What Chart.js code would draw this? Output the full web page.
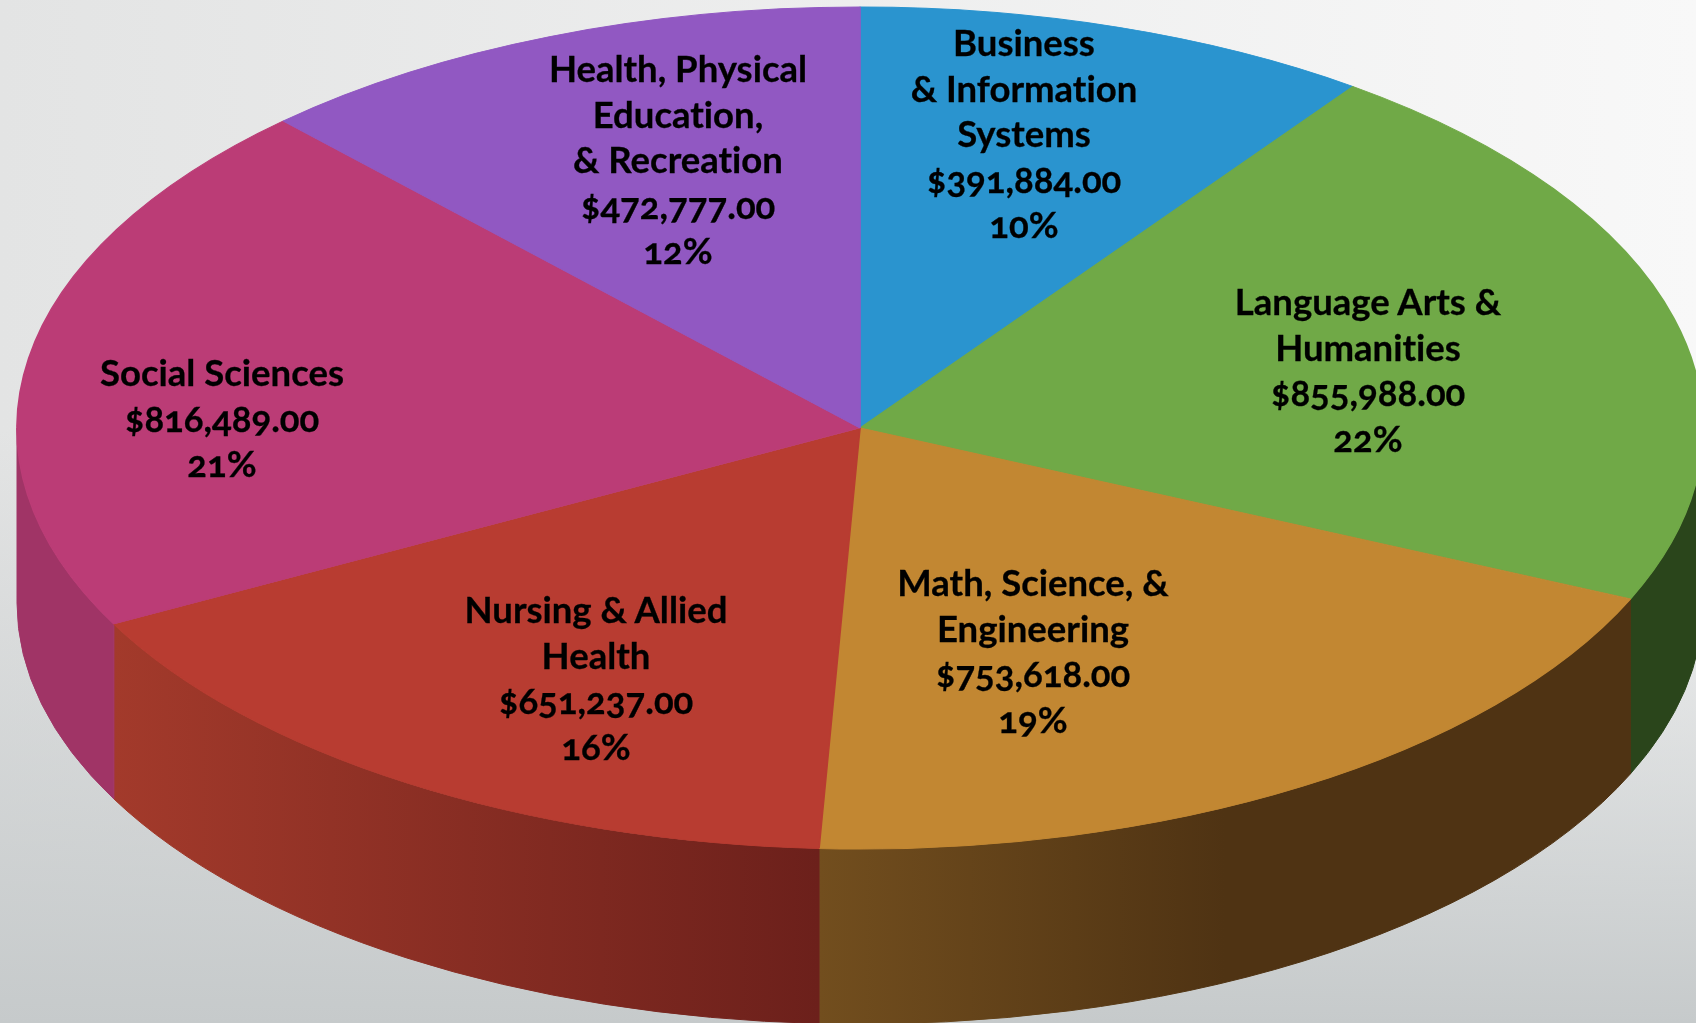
<!DOCTYPE html>
<html>
<head>
<meta charset="utf-8">
<script src="https://cdn.jsdelivr.net/npm/chart.js@4"></script>
<style>
  html, body { margin: 0; padding: 0; }
  #wrap {
    position: relative; width: 1696px; height: 1023px; overflow: hidden;
    background:
      linear-gradient(to bottom, rgba(198,202,203,0) 42%, rgba(198,202,203,1) 100%),
      linear-gradient(to right, #e3e4e4, #f8f8f8);
  }
  #myChart { position: absolute; left: 0; top: 0; }
  .lbl {
    position: absolute; transform: translateX(-50%); white-space: nowrap;
    text-align: center; color: #000; font-family: Lato, sans-serif;
    font-size: 36.5px; line-height: 45.5px; font-weight: 700;
    font-variant-numeric: oldstyle-nums;
    font-variant-ligatures: none;
    -webkit-text-stroke: 0.3px #000;
  }
</style>
</head>
<body>
<div id="wrap"><canvas id="myChart" width="1696" height="1023"></canvas></div>
<script>
const categories = ['Business & Information Systems', 'Language Arts & Humanities', 'Math, Science, & Engineering', 'Nursing & Allied Health', 'Social Sciences', 'Health, Physical Education, & Recreation']
const amounts = [391884, 855988, 753618, 651237, 816489, 472777]
const percents = [10, 22, 19, 16, 21, 12]
const nameLines = [
    ['Business', '& Information', 'Systems'],
    ['Language Arts &', 'Humanities'],
    ['Math, Science, &', 'Engineering'],
    ['Nursing & Allied', 'Health'],
    ['Social Sciences'],
    ['Health, Physical', 'Education,', '& Recreation']
]

const topColors = ['#2A94CF', '#70A947', '#C28732', '#B83C31', '#BB3C76', '#9158C2']
const wallColors = [
    ['#1d6690', '#1d6690'],
    ['#2A451B', '#2A451B'],
    ['#724E1E', '#4F3313', '#4F3313'],
    ['#A33A2B', '#6C201B'],
    ['#A03466', '#A03466'],
    ['#65408a', '#65408a']
]

// where the pie's circle ends up on the page once squashed
const ELLIPSE = { cx: 860, cy: 428, rx: 843, ry: 421, depth: 175 }
const labelSpots = [[1024, 20], [1368, 279], [1033, 560], [596, 587], [222, 350], [678, 46]]

const squash3d = {
    id: 'squash3d',
    beforeDatasetsDraw(chart) {
        const c = chart.ctx
        const arcs = chart.getDatasetMeta(0).data
        const { cx, cy, rx, ry, depth } = ELLIPSE

        // side wall, only the front half of the rim shows
        arcs.forEach((arc, i) => {
            const a0 = Math.max(arc.startAngle, 0)
            const a1 = Math.min(arc.endAngle, Math.PI)
            if (a1 <= a0) return
            const xLeft = cx + rx * Math.cos(a1)
            const xRight = cx + rx * Math.cos(a0)
            const grad = c.createLinearGradient(xLeft, 0, xRight, 0)
            wallColors[i].forEach((col, k) => grad.addColorStop(k / (wallColors[i].length - 1), col))
            c.fillStyle = grad
            c.strokeStyle = grad
            c.lineWidth = 1
            c.beginPath()
            c.ellipse(cx, cy, rx, ry, 0, a0, a1)
            c.ellipse(cx, cy + depth, rx, ry, 0, a1, a0, true)
            c.closePath()
            c.fill()
            c.stroke()
        })

        const a = arcs[0]
        c.save()
        c.translate(cx, cy)
        c.scale(rx / a.outerRadius, ry / a.outerRadius)
        c.translate(-a.x, -a.y)
    },
    afterDatasetsDraw(chart) {
        chart.ctx.restore()
    }
}

var myChart = new Chart(document.getElementById('myChart'), {
    type: 'pie',
    data: {
        labels: categories,
        datasets: [{
            data: amounts,
            backgroundColor: topColors,
            borderColor: topColors,
            borderWidth: 1
        }]
    },
    options: {
        responsive: false,
        animation: false,
        layout: { padding: 0 },
        plugins: { legend: { display: false }, tooltip: { enabled: false } }
    },
    plugins: [squash3d]
})

// labels are html so the old style figures of the font can be used
categories.forEach((name, i) => {
    const div = document.createElement('div')
    div.className = 'lbl'
    div.style.left = labelSpots[i][0] + 'px'
    div.style.top = labelSpots[i][1] + 'px'
    const money = '$' + amounts[i].toLocaleString('en-US', { minimumFractionDigits: 2 })
    nameLines[i].concat([money, percents[i] + '%']).forEach(line => {
        const row = document.createElement('div')
        row.textContent = line
        div.appendChild(row)
    })
    document.getElementById('wrap').appendChild(div)
})
</script>
</body>
</html>
